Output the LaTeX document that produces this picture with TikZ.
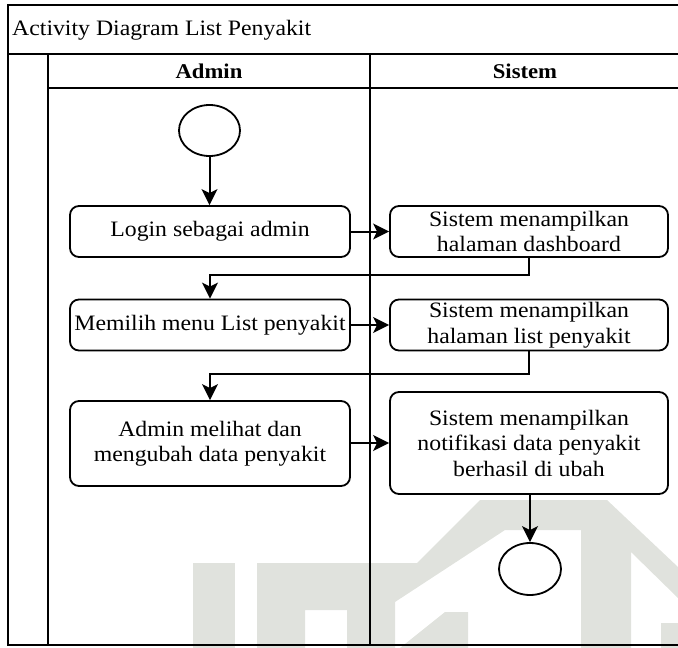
\documentclass[tikz,border=0pt]{standalone}
\usepackage{fontspec}
\setmainfont{Liberation Serif}[FakeStretch=1.08]
\usetikzlibrary{arrows.meta,shapes.geometric}

\definecolor{emblemgrey}{RGB}{224,226,221}

\tikzset{
  frame/.style={line width=2pt, line cap=rect},
  actbox/.style={draw, line width=1.8pt, rounded corners=9pt, fill=white,
    minimum width=280pt, minimum height=51pt, inner sep=0pt, align=center,
    font=\fontsize{22}{25.5}\selectfont},
  endpoint/.style={draw, ellipse, line width=1.8pt, fill=white,
    minimum width=61pt, minimum height=51pt, inner sep=0pt},
  flow/.style={line width=2pt, -{Stealth[length=16pt,width=16pt,inset=4pt]}},
  lanehead/.style={font=\fontsize{21}{24}\selectfont\bfseries, inner sep=0pt}
}

\begin{document}
\begin{tikzpicture}[x=1pt, y=-1pt]
  \useasboundingbox (0,0) rectangle (678,648);

  % faint background emblem
  \fill[emblemgrey] (193,563) rectangle (235,648);
  \fill[emblemgrey] (257,648) -- (257,563) -- (417,563) -- (480,500) -- (607,500)
    -- (678,567) -- (678,598) -- (631,552) -- (631,648) -- (581,648)
    -- (581,530) -- (505,530) -- (395,602) -- (395,648) -- (347,648)
    -- (347,610) -- (305,610) -- (305,648) -- cycle;
  \fill[emblemgrey] (400,648) -- (445,612) -- (468,612) -- (468,648) -- cycle;
  \fill[emblemgrey] (661,623) rectangle (678,648);

  % pool frame and swimlanes
  \draw[frame] (680,5) -- (8,5) -- (8,645) -- (680,645);
  \draw[frame] (8,54) -- (680,54);
  \draw[frame] (48,88) -- (680,88);
  \draw[frame] (48,54) -- (48,645);
  \draw[frame] (370,54) -- (370,645);

  \node[anchor=west, inner sep=0pt, font=\fontsize{22}{25.5}\selectfont]
    (title) at (12,30) {Activity Diagram List Penyakit};
  \node[lanehead] (hadmin) at (209,71) {Admin};
  \node[lanehead] (hsistem) at (525,71) {Sistem};

  % activities
  \node[endpoint] (start) at (209.5,130.5) {};
  \node[actbox] (b1) at (210,231.5) {Login sebagai admin};
  \node[actbox, minimum width=278pt] (b2) at (529,231.5)
    {Sistem menampilkan\\halaman dashboard};
  \node[actbox] (b3) at (210,325) {Memilih menu List penyakit};
  \node[actbox, minimum width=278pt] (b4) at (529,325)
    {Sistem menampilkan\\halaman list penyakit};
  \node[actbox, minimum height=85pt] (b5) at (210,443.5)
    {Admin melihat dan\\mengubah data penyakit};
  \node[actbox, minimum width=278pt, minimum height=102pt] (b6) at (529,443)
    {Sistem menampilkan\\notifikasi data penyakit\\berhasil di ubah};
  \node[endpoint, minimum width=62pt, minimum height=52pt] (stop) at (530,569) {};

  % control flow
  \draw[flow] (start) -- (start |- b1.north);
  \draw[flow] (b1.east) -- (b2.west);
  \draw[flow] (b2.south) -- ++(0,17) -| (b3.north);
  \draw[flow] (b3.east) -- (b4.west);
  \draw[flow] (b4.south) -- ++(0,23) -| (b5.north);
  \draw[flow] (b5.east |- b6.west) -- (b6.west);
  \draw[flow] (b6.south -| stop) -- (stop.north);
\end{tikzpicture}
\end{document}
